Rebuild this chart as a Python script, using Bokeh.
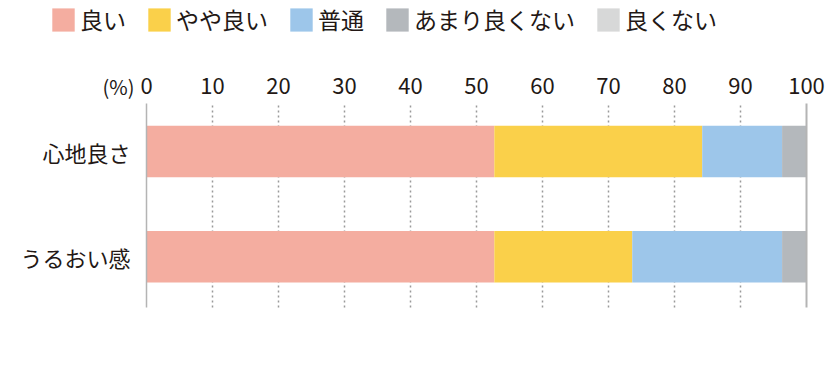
from bokeh.plotting import figure
from bokeh.models import Range1d, Legend, LegendItem
from bokeh.embed import file_html
from bokeh.resources import INLINE

categories = ["心地良さ", "うるおい感"]
series_names = ["良い", "やや良い", "普通", "あまり良くない", "良くない"]
good = [52.7, 52.7]
fairly_good = [31.5, 20.9]
normal = [12.1, 22.7]
not_very_good = [3.7, 3.7]
not_good = [0.0, 0.0]
x_ticks = [0, 10, 20, 30, 40, 50, 60, 70, 80, 90, 100]
unit_label = "(%)"

colors = ["#F4ADA0", "#FAD04A", "#9DC6EA", "#B4B8BC", "#D7D8D8"]
FONT = "Noto Sans CJK JP"
TXT = "#231815"

W, H = 830, 368
# plot area geometry (pixels): x=0 at 146, x=100 at 806; rows centred 105.3px apart
PX = 6.6
ROW = 105.3
x_start = -146 / PX
x_end = 100 + (W - 806) / PX
y_top = (256.3 - 0) / ROW
y_bot = (256.3 - H) / ROW
area_top = (256.3 - 103) / ROW
area_bot = (256.3 - 307) / ROW

ypos = [len(categories) - 1 - i for i in range(len(categories))]
data = dict(y=ypos)
keys = ["s0", "s1", "s2", "s3", "s4"]
for k, v in zip(keys, [good, fairly_good, normal, not_very_good, not_good]):
    data[k] = v

p = figure(width=W, height=H, output_backend="svg", toolbar_location=None,
           x_range=Range1d(x_start, x_end), y_range=Range1d(y_bot, y_top),
           x_axis_location=None, y_axis_location=None,
           min_border=0, min_border_left=0, min_border_right=0,
           min_border_top=0, min_border_bottom=0)
p.outline_line_color = None
p.grid.visible = False

# dotted grid lines at inner ticks
inner = x_ticks[1:-1]
p.segment(x0=inner, x1=inner, y0=[area_bot] * len(inner), y1=[area_top] * len(inner),
          line_color="#9a9a9a", line_width=1.5, line_dash="2 3")

renderers = p.hbar_stack(keys, y="y", height=0.489, color=colors, source=data, line_width=0)

# axis line at 0 and frame line at 100
edges = [x_ticks[0], x_ticks[-1]]
p.segment(x0=edges, x1=edges, y0=[area_bot] * 2, y1=[area_top] * 2,
          line_color="#b4b4b4", line_width=[1.5, 2])

# x tick labels (top)
p.text(x=x_ticks, y=[(256.3 - 85) / ROW] * len(x_ticks), text=[str(t) for t in x_ticks],
       text_align="center", text_baseline="middle", text_font={"value": FONT},
       text_font_size="22px", text_color=TXT)

# unit label
p.text(x=[-12 / PX], y=[(256.3 - 86) / ROW], text=[unit_label],
       text_align="right", text_baseline="middle", text_font={"value": FONT},
       text_font_size="20px", text_color=TXT)

# category labels
p.text(x=[-16 / PX] * len(categories), y=ypos, text=categories,
       text_align="right", text_baseline="middle", text_font={"value": FONT},
       text_font_size="22px", text_color=TXT)

legend = Legend(items=[LegendItem(label=n, renderers=[r]) for n, r in zip(series_names, renderers)],
                location=(49, H - 36), orientation="horizontal",
                glyph_width=28, glyph_height=29, label_standoff=3, spacing=19,
                padding=0, margin=0, border_line_color=None, background_fill_alpha=0,
                label_text_font=FONT, label_text_font_size="23px", label_text_color=TXT,
                label_height=29)
p.add_layout(legend)

open("out.html", "w").write(file_html(p, INLINE))
